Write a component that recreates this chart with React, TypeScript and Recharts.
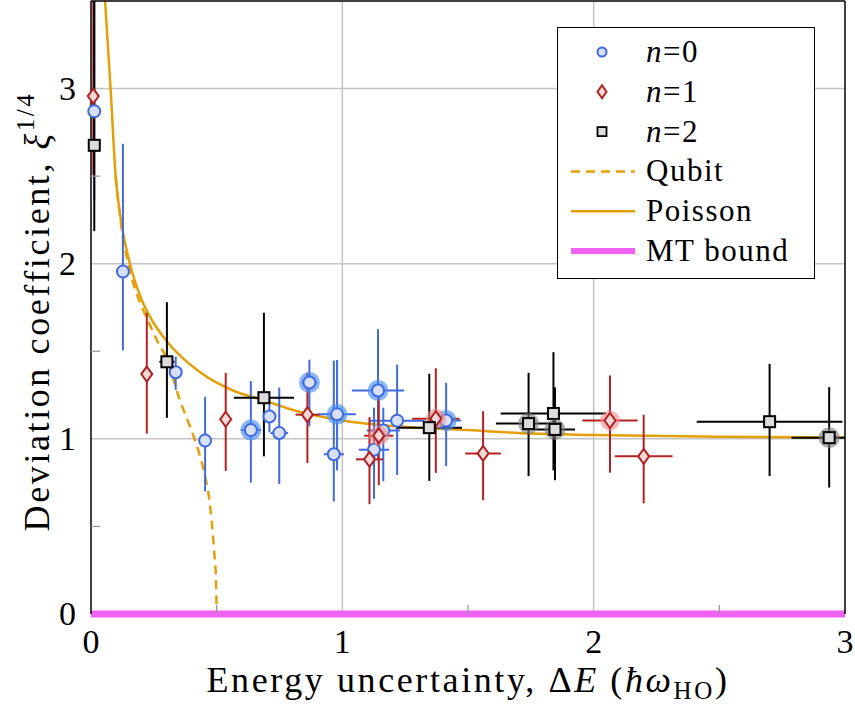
import React from 'react';
import { ComposedChart, Scatter, Line, XAxis, YAxis, ErrorBar, ReferenceLine, Label } from 'recharts';

// n = 0
const n0X = [0.013, 0.127, 0.337, 0.454, 0.636, 0.71, 0.749, 0.869, 0.966, 0.979, 1.142, 1.163, 1.126, 1.218, 1.413];
const n0Y = [2.87, 1.955, 1.38, 0.99, 1.05, 1.128, 1.033, 1.322, 0.912, 1.14, 1.276, 1.048, 0.938, 1.104, 1.105];
const n0Lo = [0.51, 0.45, 0.1, 0.29, 0.3, 0.09, 0.29, 0.25, 0.27, 0.32, 0.4, 0.29, 0.28, 0.31, 0.26];
const n0Hi = [0.63, 0.73, 0.09, 0.25, 0.28, 0.09, 0.26, 0.13, 0.535, 0.31, 0.35, 0.13, 0.24, 0.32, 0.215];
const n0Ex = [0, 0, 0, 0, 0.04, 0, 0.035, 0.03, 0.04, 0.075, 0.104, 0.066, 0.06, 0.11, 0.06];
const n0Halo = [false, false, false, false, true, false, false, true, false, true, true, false, false, false, true];

// n = 1
const n1X = [0.009, 0.222, 0.536, 0.861, 1.108, 1.145, 1.372, 1.56, 2.065, 2.199];
const n1Y = [2.957, 1.37, 1.112, 1.138, 0.883, 1.018, 1.115, 0.917, 1.105, 0.9];
const n1Lo = [0.45, 0.34, 0.295, 0.276, 0.256, 0.283, 0.31, 0.267, 0.298, 0.268];
const n1Hi = [0.543, 0.35, 0.265, 0.239, 0.241, 0.249, 0.288, 0.241, 0.257, 0.238];
const n1Ex = [0, 0, 0.02, 0.047, 0.054, 0.058, 0.094, 0.071, 0.11, 0.115];
const n1Halo = [false, false, false, false, false, true, true, false, true, false];

// n = 2
const n2X = [0.013, 0.302, 0.688, 1.346, 1.741, 1.84, 1.846, 2.7, 2.937];
const n2Y = [2.676, 1.44, 1.235, 1.064, 1.087, 1.145, 1.054, 1.098, 1.007];
const n2Lo = [0.49, 0.32, 0.335, 0.304, 0.3, 0.325, 0.29, 0.31, 0.285];
const n2Hi = [0.824, 0.34, 0.485, 0.308, 0.29, 0.35, 0.24, 0.33, 0.288];
const n2ExLo = [0, 0.03, 0.12, 0.13, 0.13, 0.21, 0.08, 0.29, 0.15];
const n2ExHi = [0, 0.03, 0.12, 0.13, 0.13, 0.21, 0.08, 0.29, 0.063];
const n2Halo = [false, false, false, false, true, false, true, false, true];

// theory curves
const poissonX = [0.056, 0.078, 0.098, 0.12, 0.155, 0.2, 0.25, 0.3, 0.434, 0.565, 0.687, 0.832, 1.0, 1.23, 1.5, 1.75, 2.0, 2.5, 3.0];
const poissonY = [3.5, 3.0, 2.5, 2.24, 2.0, 1.8, 1.66, 1.56, 1.38, 1.276, 1.22, 1.153, 1.105, 1.07, 1.05, 1.03, 1.022, 1.012, 1.008];
const qubitX = [0.098, 0.12, 0.155, 0.2, 0.222, 0.26, 0.3, 0.354, 0.407, 0.43, 0.455, 0.47, 0.48, 0.49, 0.497, 0.5];
const qubitY = [2.5, 2.22, 1.96, 1.76, 1.69, 1.57, 1.46, 1.22, 1.02, 0.92, 0.78, 0.66, 0.53, 0.36, 0.2, 0];
const mtX = [0, 3];
const mtY = [0, 0];

const xTicks = [0, 0.5, 1, 1.5, 2, 2.5, 3];
const yTicks = [0, 0.5, 1, 1.5, 2, 2.5, 3];
const gridX = [1, 2];
const gridY = [1, 2, 3];

const FONT = 'Liberation Serif, Times New Roman, serif';
const BLUE = '#4169e1';
const RED = '#b22222';
const ORANGE = '#e3a008';
const MAGENTA = '#f062f0';

const pts = (xs: number[], ys: number[], lo: number[], hi: number[], exLo: number[], exHi: number[], halo: boolean[]) =>
  xs.map((x, i) => ({ x, y: ys[i], ey: [lo[i], hi[i]], ex: [exLo[i], exHi[i]], halo: halo[i] }));

const n0Data = pts(n0X, n0Y, n0Lo, n0Hi, n0Ex, n0Ex, n0Halo);
const n1Data = pts(n1X, n1Y, n1Lo, n1Hi, n1Ex, n1Ex, n1Halo);
const n2Data = pts(n2X, n2Y, n2Lo, n2Hi, n2ExLo, n2ExHi, n2Halo);
const poissonData = poissonX.map((x, i) => ({ x, y: poissonY[i] }));
const qubitData = qubitX.map((x, i) => ({ x, y: qubitY[i] }));

const CircleMark = (props: any) => {
  const { cx, cy, payload } = props;
  return (
    <g>
      {payload.halo && <circle cx={cx} cy={cy} r={10.5} fill="#4a8ff0" fillOpacity={0.65} />}
      <circle cx={cx} cy={cy} r={6} fill="#d8e0f7" stroke={BLUE} strokeWidth={2} />
    </g>
  );
};

const DiamondMark = (props: any) => {
  const { cx, cy, payload } = props;
  return (
    <g>
      {payload.halo && <circle cx={cx} cy={cy} r={10} fill="#f28b8b" fillOpacity={0.6} />}
      <path d={`M${cx},${cy - 7.5} L${cx + 5.5},${cy} L${cx},${cy + 7.5} L${cx - 5.5},${cy} Z`} fill="#f6d8d8" stroke={RED} strokeWidth={2} />
    </g>
  );
};

const SquareMark = (props: any) => {
  const { cx, cy, payload } = props;
  return (
    <g>
      {payload.halo && <circle cx={cx} cy={cy} r={10.5} fill="#7a7a7a" fillOpacity={0.6} />}
      <rect x={cx - 5.5} y={cy - 5.5} width={11} height={11} fill="#dcdcdc" stroke="#000" strokeWidth={2} />
    </g>
  );
};

const isMinor = (v: number) => Math.abs(v - Math.round(v)) > 0.01;

const BottomTick = (props: any) => {
  const { x, y, payload } = props;
  const v = payload.value;
  if (isMinor(v)) return <line x1={x} y1={y} x2={x} y2={y - 9} stroke="#9a9a9a" strokeWidth={1.3} />;
  return (
    <text x={x} y={y + 39} textAnchor="middle" fontFamily={FONT} fontSize={34} fill="#000">{v}</text>
  );
};

const TopTick = (props: any) => {
  const { x, y, payload } = props;
  if (!isMinor(payload.value)) return null;
  return <line x1={x} y1={y} x2={x} y2={y + 9} stroke="#9a9a9a" strokeWidth={1.3} />;
};

const LeftTick = (props: any) => {
  const { x, y, payload } = props;
  const v = payload.value;
  if (isMinor(v)) return <line x1={x} y1={y} x2={x + 9} y2={y} stroke="#9a9a9a" strokeWidth={1.3} />;
  return (
    <text x={x - 15} y={y + 11} textAnchor="end" fontFamily={FONT} fontSize={34} fill="#000">{v}</text>
  );
};

const RightTick = (props: any) => {
  const { x, y, payload } = props;
  if (!isMinor(payload.value)) return null;
  return <line x1={x} y1={y} x2={x - 9} y2={y} stroke="#9a9a9a" strokeWidth={1.3} />;
};

const XTitle = (props: any) => {
  const vb = props.viewBox;
  return (
    <text x={vb.x + vb.width / 2} y={vb.y + 78} textAnchor="middle" fontFamily={FONT} fontSize={36} letterSpacing={2.6} fill="#000">
      <tspan>Energy uncertainty, Δ</tspan>
      <tspan fontStyle="italic">E</tspan>
      <tspan> (</tspan>
      <tspan fontStyle="italic">ħω</tspan>
      <tspan fontSize={25} dy={7}>HO</tspan>
      <tspan dy={-7}>)</tspan>
    </text>
  );
};

const YTitle = (props: any) => {
  const vb = props.viewBox;
  const cx = 49;
  const cy = vb.y + vb.height / 2 + 4;
  return (
    <text x={cx} y={cy} transform={`rotate(-90 ${cx} ${cy})`} textAnchor="middle" fontFamily={FONT} fontSize={36} letterSpacing={2.6} fill="#000">
      <tspan>Deviation coefficient, </tspan>
      <tspan fontStyle="italic">ξ</tspan>
      <tspan fontSize={25} dy={-15}>1/4</tspan>
    </text>
  );
};

const legendRows = [
  { kind: 'circle', n: '0' },
  { kind: 'diamond', n: '1' },
  { kind: 'square', n: '2' },
  { kind: 'dash', label: 'Qubit' },
  { kind: 'solid', label: 'Poisson' },
  { kind: 'mt', label: 'MT bound' },
];

const LegendBox = () => (
  <div style={{ position: 'absolute', left: 557, top: 27, width: 258, height: 252, border: '1.5px solid #000', background: '#fff', boxSizing: 'border-box' }}>
    <svg width={256} height={250}>
      {legendRows.map((r, i) => {
        const cy = 24 + i * 39.8;
        const mx = 44;
        let marker: React.ReactNode = null;
        if (r.kind === 'circle') marker = <circle cx={mx} cy={cy} r={4.5} fill="#d8e0f7" stroke={BLUE} strokeWidth={2} />;
        if (r.kind === 'diamond') marker = <path d={`M${mx},${cy - 6.5} L${mx + 4.5},${cy} L${mx},${cy + 6.5} L${mx - 4.5},${cy} Z`} fill="#f6d8d8" stroke={RED} strokeWidth={2} />;
        if (r.kind === 'square') marker = <rect x={mx - 4.5} y={cy - 4.5} width={9} height={9} fill="#dcdcdc" stroke="#000" strokeWidth={1.8} />;
        if (r.kind === 'dash') marker = <line x1={13} x2={77} y1={cy} y2={cy} stroke={ORANGE} strokeWidth={2.5} strokeDasharray="9 6" />;
        if (r.kind === 'solid') marker = <line x1={13} x2={77} y1={cy} y2={cy} stroke={ORANGE} strokeWidth={2.5} />;
        if (r.kind === 'mt') marker = <line x1={13} x2={77} y1={cy} y2={cy} stroke={MAGENTA} strokeWidth={6} />;
        return (
          <g key={i}>
            {marker}
            <text x={88} y={cy + 10} fontFamily={FONT} fontSize={31} letterSpacing={1.5} fill="#000">
              {r.n !== undefined ? (
                <>
                  <tspan fontStyle="italic">n</tspan>
                  <tspan>={r.n}</tspan>
                </>
              ) : (
                r.label
              )}
            </text>
          </g>
        );
      })}
    </svg>
  </div>
);

export default function App() {
  return (
    <div style={{ position: 'absolute', left: 0, top: 0, width: 855, height: 704, background: '#fff' }}>
      <ComposedChart width={855} height={704} margin={{ top: 0, right: 9, bottom: 0, left: 0 }}>
        <XAxis xAxisId="b" type="number" dataKey="x" domain={[0, 3]} ticks={xTicks} height={90} tickSize={0} tickMargin={0}
          tick={<BottomTick />} axisLine={false} tickLine={false} interval={0}>
          <Label content={<XTitle />} />
        </XAxis>
        <XAxis xAxisId="t" orientation="top" type="number" dataKey="x" domain={[0, 3]} ticks={xTicks} height={1} tickSize={0} tickMargin={0}
          tick={<TopTick />} axisLine={{ stroke: '#000', strokeWidth: 1.5 }} tickLine={false} interval={0} />
        <YAxis yAxisId="l" type="number" dataKey="y" domain={[0, 3.5]} ticks={yTicks} width={91} tickSize={0} tickMargin={0}
          tick={<LeftTick />} axisLine={{ stroke: '#000', strokeWidth: 1.5 }} tickLine={false} interval={0}>
          <Label content={<YTitle />} />
        </YAxis>
        <YAxis yAxisId="r" orientation="right" type="number" dataKey="y" domain={[0, 3.5]} ticks={yTicks} width={1} tickSize={0} tickMargin={0}
          tick={<RightTick />} axisLine={{ stroke: '#000', strokeWidth: 1.5 }} tickLine={false} interval={0} />

        {gridX.map((v) => (
          <ReferenceLine key={'gx' + v} xAxisId="b" yAxisId="l" x={v} stroke="#c4c4c4" strokeWidth={1.5} />
        ))}
        {gridY.map((v) => (
          <ReferenceLine key={'gy' + v} xAxisId="b" yAxisId="l" y={v} stroke="#c4c4c4" strokeWidth={1.5} />
        ))}

        <Line xAxisId="b" yAxisId="l" data={qubitData} dataKey="y" type="monotone" stroke={ORANGE} strokeWidth={2.5}
          strokeDasharray="9 6" dot={false} isAnimationActive={false} />
        <Line xAxisId="b" yAxisId="l" data={poissonData} dataKey="y" type="monotone" stroke={ORANGE} strokeWidth={2.5}
          dot={false} isAnimationActive={false} />

        <Scatter xAxisId="b" yAxisId="l" data={n0Data} shape={<CircleMark />} isAnimationActive={false}>
          <ErrorBar dataKey="ey" direction="y" width={0} stroke={BLUE} strokeWidth={2} />
          <ErrorBar dataKey="ex" direction="x" width={0} stroke={BLUE} strokeWidth={2} />
        </Scatter>
        <Scatter xAxisId="b" yAxisId="l" data={n1Data} shape={<DiamondMark />} isAnimationActive={false}>
          <ErrorBar dataKey="ey" direction="y" width={0} stroke={RED} strokeWidth={2} />
          <ErrorBar dataKey="ex" direction="x" width={0} stroke={RED} strokeWidth={2} />
        </Scatter>
        <Scatter xAxisId="b" yAxisId="l" data={n2Data} shape={<SquareMark />} isAnimationActive={false}>
          <ErrorBar dataKey="ey" direction="y" width={0} stroke="#000" strokeWidth={2} />
          <ErrorBar dataKey="ex" direction="x" width={0} stroke="#000" strokeWidth={2} />
        </Scatter>

        <ReferenceLine xAxisId="b" yAxisId="l" ifOverflow="visible"
          segment={[{ x: mtX[0], y: mtY[0] }, { x: mtX[1], y: mtY[1] }]} stroke={MAGENTA} strokeWidth={7} />
      </ComposedChart>
      <LegendBox />
    </div>
  );
}
